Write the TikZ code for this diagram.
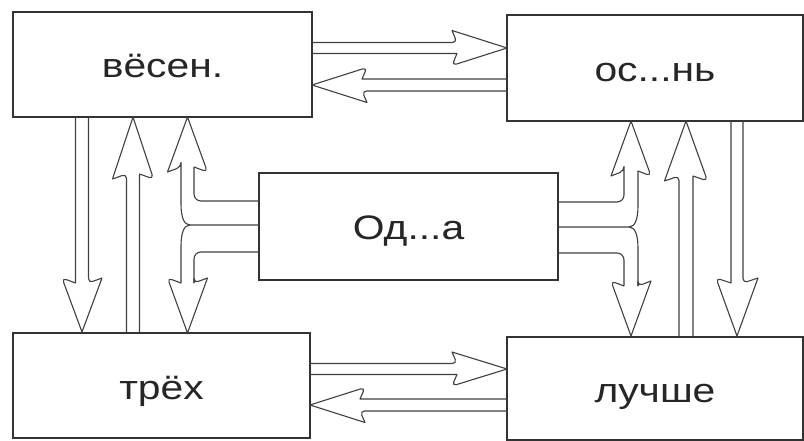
\documentclass[tikz,border=0pt]{standalone}
\usepackage{fontspec}
\setmainfont{Liberation Sans}
\usepackage{graphicx}
\newcommand\lbl[1]{\scalebox{1.2}[1]{\fontsize{34pt}{34pt}\selectfont #1}}
% hollow arrow: tipx tipy angle length headlength halfwing halfshaft
\newcommand\harrow[7]{%
  \begin{scope}[shift={(#1,#2)},rotate=#3]
    \draw[arrline] (-#4,#7) -- (-#5,#7) [rounded corners=4.5pt] -- (-#5-5,#6) [sharp corners] -- (0,0)
      -- (-#5-5,-#6) [rounded corners=4.5pt] -- (-#5,-#7) [sharp corners] -- (-#4,-#7);
  \end{scope}}
\begin{document}
\begin{tikzpicture}[x=1pt,y=-1pt,
  box/.style={draw=black!80, line width=1.1pt, inner sep=0pt, text height=27pt, text depth=0pt, text=black!85},
  arrline/.style={draw=black!75, line width=1.1pt, line join=round},
  fork/.style={draw=black!75, line width=1.1pt}]
\fill[white] (0,0) rectangle (804,441);
\useasboundingbox (0,0) rectangle (804,441);

\node[box, minimum width=299pt, minimum height=105pt] (ves) at (162.5,64.5) {\lbl{вёсен.}};
\node[box, minimum width=296pt, minimum height=106pt] (osen) at (655,68) {\lbl{ос...нь}};
\node[box, minimum width=297pt, minimum height=105pt] (tri) at (161.5,385.5) {\lbl{трёх}};
\node[box, minimum width=296pt, minimum height=103pt] (luch) at (655,388.5) {\lbl{лучше}};
\node[box, minimum width=299pt, minimum height=107pt] (oda) at (408.5,226.5) {\lbl{Од...а}};

% horizontal arrows
\harrow{507}{48}{0}{195}{50}{17.5}{5.5}
\harrow{312}{85}{180}{195}{50}{17.5}{6}
\harrow{507}{369}{0}{197}{50}{17}{5.5}
\harrow{310}{405}{180}{197}{50}{17.5}{6}

% vertical arrows left
\harrow{82}{332}{-90}{215}{49}{20}{6.5}
\harrow{133}{117}{90}{216}{57}{20.5}{6.5}
% vertical arrows right
\harrow{686}{121}{90}{216}{55}{21.5}{7}
\harrow{737}{336}{-90}{215}{53}{21}{6}

% fork heads (left)
\harrow{187.5}{117}{90}{50}{50}{20}{6.5}
\harrow{187.5}{333}{-90}{50}{50}{20}{6.5}
% fork heads (right)
\harrow{631}{121}{90}{50}{50}{20}{7}
\harrow{631}{336}{-90}{50}{50}{20}{7}

% left fork shafts
\draw[fork, rounded corners=7pt] (259,201) -- (194,201) -- (194,167);
\draw[fork] (181,167) -- (181,204) .. controls (181,217) and (184,225) .. (190,225) -- (259,225);
\draw[fork] (190,225) .. controls (184,225) and (181,233) .. (181,246) -- (181,283);
\draw[fork, rounded corners=7pt] (259,252) -- (194,252) -- (194,283);

% right fork shafts
\draw[fork, rounded corners=7pt] (558,202) -- (624,202) -- (624,171);
\draw[fork] (638,171) -- (638,206) .. controls (638,219) and (635,227) .. (629,227) -- (558,227);
\draw[fork] (629,227) .. controls (635,227) and (638,235) .. (638,248) -- (638,286);
\draw[fork, rounded corners=7pt] (558,253) -- (624,253) -- (624,286);
\end{tikzpicture}
\end{document}
